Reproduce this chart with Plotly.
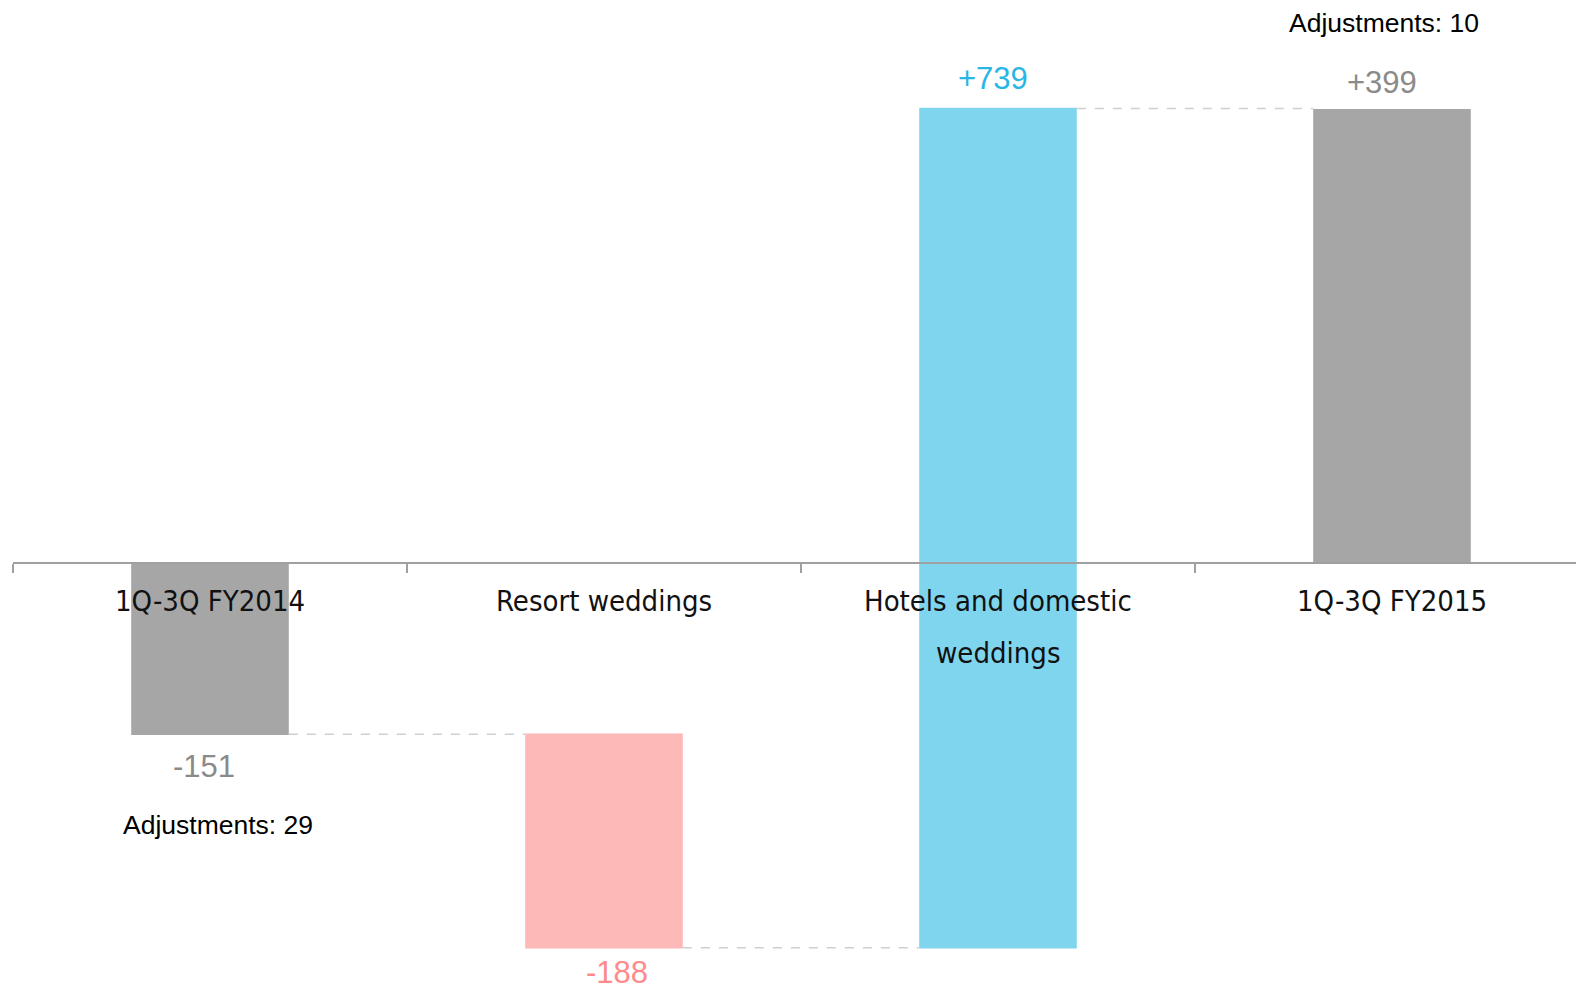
import plotly.graph_objects as go

categories = ["1Q-3Q FY2014", "Resort weddings", "Hotels and domestic", "1Q-3Q FY2015"]
label_second_lines = ["", "", "weddings", ""]
measures = ["absolute", "relative", "relative", "absolute"]
values = [-151, -188, 739, 399]
value_texts = ["-151", "-188", "+739", "+399"]
adjust_notes = ["Adjustments: 29", "", "", "Adjustments: 10"]

GRAY = "#A6A6A6"
PINK = "#FDB8B8"
BLUE = "#80D5EE"
label_colors = ["#8A8A8A", "#FF8A8A", "#29B6E4", "#8A8A8A"]
value_xshift = [-6, 13, -5, -10]
value_yshift = [32, 25, 30, 27]

W, H = 1576, 992
y_range = [-377.9, 495.6]
x_range = [-0.5, 3.467]
zero_frac = (0 - y_range[0]) / (y_range[1] - y_range[0])

fig = go.Figure()
fig.add_trace(go.Waterfall(
    x=categories,
    y=values,
    measure=measures,
    increasing=dict(marker=dict(color=BLUE)),
    decreasing=dict(marker=dict(color=PINK)),
    totals=dict(marker=dict(color=GRAY)),
    connector=dict(mode="between", line=dict(color="#CFCFCF", width=1.5, dash="dash")),
    textinfo="none",
    hoverinfo="skip",
))

# cumulative extents for label positions
cum = []
running = 0
for m, v in zip(measures, values):
    if m == "absolute":
        running = v
        cum.append((0, v))
    else:
        cum.append((running, running + v))
        running += v

LABEL_FONT = "DejaVu Sans Condensed, DejaVu Sans"
NUM_FONT = "Liberation Sans, Arial"

annotations = []
for i, cat in enumerate(categories):
    lo, hi = cum[i]
    top, bot = max(lo, hi), min(lo, hi)
    v = values[i]
    if v >= 0:
        annotations.append(dict(x=cat, y=top, xref="x", yref="y", text=value_texts[i],
                                showarrow=False, yanchor="middle", yshift=value_yshift[i],
                                xshift=value_xshift[i],
                                font=dict(family=NUM_FONT, size=31, color=label_colors[i])))
    else:
        annotations.append(dict(x=cat, y=bot, xref="x", yref="y", text=value_texts[i],
                                showarrow=False, yanchor="middle", yshift=-value_yshift[i],
                                xshift=value_xshift[i],
                                font=dict(family=NUM_FONT, size=31, color=label_colors[i])))
    # category labels
    annotations.append(dict(x=cat, y=0, xref="x", yref="y", text=cat, showarrow=False,
                            yanchor="middle", yshift=-38,
                            font=dict(family=LABEL_FONT, size=29, color="#111111")))
    if label_second_lines[i]:
        annotations.append(dict(x=cat, y=0, xref="x", yref="y", text=label_second_lines[i], showarrow=False,
                                yanchor="middle", yshift=-90,
                                font=dict(family=LABEL_FONT, size=29, color="#111111")))
    if adjust_notes[i]:
        if v >= 0:
            annotations.append(dict(x=cat, y=top, xref="x", yref="y", text=adjust_notes[i], showarrow=False,
                                    yanchor="middle", yshift=87, xshift=-8,
                                    font=dict(family=NUM_FONT, size=26.5, color="#000000")))
        else:
            annotations.append(dict(x=cat, y=bot, xref="x", yref="y", text=adjust_notes[i], showarrow=False,
                                    yanchor="middle", yshift=-91, xshift=8,
                                    font=dict(family=NUM_FONT, size=26.5, color="#000000")))

fig.update_layout(
    width=W, height=H,
    margin=dict(l=13, r=0, t=0, b=0),
    paper_bgcolor="white", plot_bgcolor="white",
    showlegend=False,
    waterfallgap=0.6,
    xaxis=dict(type="category", anchor="free", position=zero_frac, range=x_range,
               showline=True, linecolor="#A0A0A0", linewidth=2,
               ticks="outside", tickson="boundaries", ticklen=9, tickwidth=1.5, tickcolor="#A0A0A0",
               showticklabels=False, showgrid=False, zeroline=False, fixedrange=True),
    yaxis=dict(range=y_range, visible=False, showgrid=False, zeroline=False, fixedrange=True),
    annotations=annotations,
)

fig.write_html("out.html")
